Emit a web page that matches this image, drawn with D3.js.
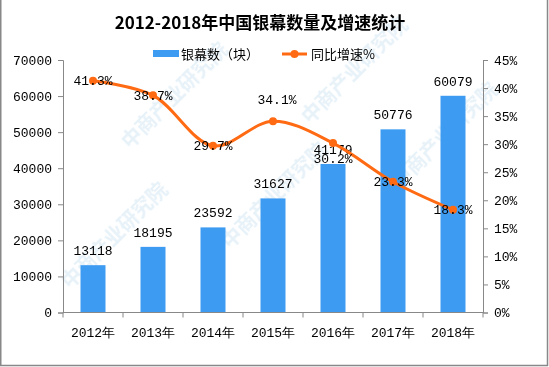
<!DOCTYPE html>
<html><head><meta charset="utf-8">
<script src="https://cdn.jsdelivr.net/npm/d3@7/dist/d3.min.js"></script>
<style>body{margin:0;background:#fff}svg{display:block}</style>
</head><body>
<script>
const years = ["2012年","2013年","2014年","2015年","2016年","2017年","2018年"];
const screens = [13118,18195,23592,31627,41179,50776,60079];
const growth = [41.3,38.7,29.7,34.1,30.2,23.3,18.3];
const leftTicks = [0,10000,20000,30000,40000,50000,60000,70000];
const rightTicks = [0,5,10,15,20,25,30,35,40,45];
const labelPos = ["c","c","c","a","b","c","c"];

const W=549,H=367;
const svg=d3.select("body").append("svg").attr("width",W).attr("height",H);
svg.append("rect").attr("width",W).attr("height",H).attr("fill","#fff");

const font="'Liberation Mono','DejaVu Sans Mono',monospace";
const cjk="'Noto Sans CJK SC',sans-serif";

// watermark
const wm=svg.append("g").attr("fill","#d6e8f4").attr("font-family",cjk).attr("font-size",20).attr("font-weight","bold").attr("opacity",0.6);
[[70,290],[230,250],[400,190],[130,150],[310,125]].forEach(p=>{
  wm.append("text").attr("transform",`translate(${p[0]},${p[1]}) rotate(-45)`).text("中商产业研究院");
});

const xc=d3.scalePoint().domain(years).range([93,453]);
const yL=d3.scaleLinear().domain([0,70000]).range([312.5,60]);
const yR=d3.scaleLinear().domain([0,45]).range([312.5,60]);

// bars
svg.selectAll(".bar").data(screens).enter().append("rect")
  .attr("x",(d,i)=>xc(years[i])-12.5).attr("width",25)
  .attr("y",d=>yL(d)).attr("height",d=>yL(0)-yL(d)).attr("fill","#3d9bf2");

// axes
const axL=d3.axisLeft(yL).tickValues(leftTicks).tickSize(5).tickPadding(6).tickFormat(d3.format("d"));
const gL=svg.append("g").attr("transform","translate(63,0)").call(axL);
const axR=d3.axisRight(yR).tickValues(rightTicks).tickSize(5).tickPadding(6).tickFormat(d=>d+"%");
const gR=svg.append("g").attr("transform","translate(483,0)").call(axR);
const xb=d3.scaleLinear().domain([0,7]).range([63,483]);
const gX=svg.append("g").attr("transform","translate(0,312.5)");
gX.append("line").attr("x1",63).attr("x2",483).attr("stroke","#888");
gX.selectAll("line.t").data(d3.range(8)).enter().append("line").attr("class","t")
  .attr("x1",d=>xb(d)).attr("x2",d=>xb(d)).attr("y1",0).attr("y2",5).attr("stroke","#888");
gX.selectAll("text").data(years).enter().append("text")
  .attr("x",d=>xc(d)).attr("y",24).attr("text-anchor","middle")
  .attr("font-family",font).attr("font-size",13).attr("fill","#000").text(d=>d);
[gL,gR].forEach(g=>{
  g.select(".domain").attr("stroke","#888");
  g.selectAll(".tick line").attr("stroke","#888");
  g.selectAll("text").attr("font-family",font).attr("font-size",13).attr("fill","#000");
});

// bar labels
svg.selectAll(".bl").data(screens).enter().append("text")
  .attr("x",(d,i)=>xc(years[i])).attr("y",d=>yL(d)-10).attr("text-anchor","middle")
  .attr("font-family",font).attr("font-size",13).attr("fill","#000").text(d=>d);

// line
const line=d3.line().x((d,i)=>xc(years[i])).y(d=>yR(d)).curve(d3.curveCatmullRom.alpha(0.5));
svg.append("path").datum(growth).attr("d",line).attr("fill","none").attr("stroke","#ff6a13").attr("stroke-width",3);
svg.selectAll(".pt").data(growth).enter().append("circle")
  .attr("cx",(d,i)=>xc(years[i])).attr("cy",d=>yR(d)).attr("r",4).attr("fill","#ff6a13");

svg.selectAll(".gl").data(growth).enter().append("text")
  .attr("x",(d,i)=>xc(years[i])+(labelPos[i]==="a"?4:0))
  .attr("y",(d,i)=>yR(d)+(labelPos[i]==="a"?-22:labelPos[i]==="b"?15:0))
  .attr("dy","0.35em").attr("text-anchor","middle")
  .attr("font-family",font).attr("font-size",13).attr("fill","#000").text(d=>d.toFixed(1)+"%");

// title
svg.append("text").attr("x",260).attr("y",29).attr("text-anchor","middle")
  .attr("font-family","'Noto Sans CJK SC',sans-serif").attr("font-weight","bold").attr("font-size",17)
  .attr("fill","#000").text("2012-2018年中国银幕数量及增速统计");

// legend
const lg=svg.append("g");
lg.append("rect").attr("x",153).attr("y",50).attr("width",26).attr("height",7).attr("fill","#3d9bf2");
lg.append("text").attr("x",181).attr("y",54).attr("dy","0.35em").attr("font-family",cjk).attr("font-size",13).text("银幕数（块）");
lg.append("line").attr("x1",282).attr("x2",307).attr("y1",54).attr("y2",54).attr("stroke","#ff6a13").attr("stroke-width",3);
lg.append("circle").attr("cx",294.5).attr("cy",54).attr("r",4).attr("fill","#ff6a13");
lg.append("text").attr("x",311).attr("y",54).attr("dy","0.35em").attr("font-family",cjk).attr("font-size",13).text("同比增速%");

// border
const b=svg.append("g").attr("stroke","#888").attr("stroke-width",1.5);
b.append("line").attr("x1",0.75).attr("x2",0.75).attr("y1",0).attr("y2",366);
b.append("line").attr("x1",547.5).attr("x2",547.5).attr("y1",0).attr("y2",366);
b.append("line").attr("x1",0).attr("x2",548).attr("y1",365.5).attr("y2",365.5);
</script>
</body></html>
